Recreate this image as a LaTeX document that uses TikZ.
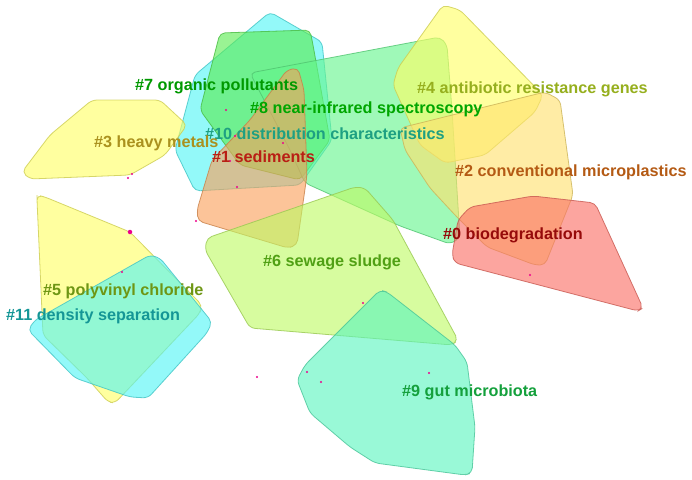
\documentclass[tikz,border=0pt]{standalone}
\usepackage{fontspec}
\setmainfont{Liberation Sans}
\begin{document}
\begin{tikzpicture}[x=1pt,y=-1pt,
  hull/.style={rounded corners=5pt, line width=0.8pt, fill opacity=0.62, draw opacity=0.8},
  lab/.style={font=\fontsize{16.2}{17}\selectfont\bfseries, inner sep=0pt, anchor=west},
  pt/.style={fill=magenta, draw=none, circle, inner sep=0pt, minimum size=2.4pt}]
\useasboundingbox (0,0) rectangle (692,479);
\definecolor{cRed}{RGB}{250,110,100}
\definecolor{cOrange}{RGB}{250,160,90}
\definecolor{cLtOr}{RGB}{255,225,110}
\definecolor{cYel}{RGB}{255,255,100}
\definecolor{cYG}{RGB}{190,250,100}
\definecolor{cGreen}{RGB}{90,235,80}
\definecolor{cLtGr}{RGB}{100,245,140}
\definecolor{cAqua}{RGB}{90,245,190}
\definecolor{cCyan}{RGB}{80,245,245}
% hulls
\draw[hull, draw=cCyan!80!black, fill=cCyan] (270,12) -- (322,42) -- (332,140) -- (300,185) -- (195,191) -- (175,150) -- (195,75) -- cycle; % #10
\draw[hull, draw=cGreen!80!black, fill=cGreen] (220,33) -- (310,30) -- (313,45) -- (330,140) -- (300,180) -- (240,165) -- (200,110) -- cycle; % #7
\draw[hull, draw=cLtGr!80!black, fill=cLtGr] (250,73) -- (440,37) -- (447,45) -- (452,110) -- (460,238) -- (450,244) -- (400,226) -- (305,183) -- (290,150) -- cycle; % #8
\draw[hull, draw=cYel!80!black, fill=cYel] (92,100) -- (160,100) -- (187,125) -- (165,155) -- (130,175) -- (30,179) -- (22,172) -- (50,135) -- cycle; % #3
\draw[hull, draw=cYel!80!black, fill=cYel] (443,5) -- (460,10) -- (543,95) -- (535,112) -- (485,155) -- (445,163) -- (420,145) -- (393,85) -- (398,68) -- cycle; % #4
\draw[hull, draw=cLtOr!80!black, fill=cLtOr] (400,128) -- (545,92) -- (560,100) -- (573,195) -- (545,265) -- (535,265) -- (487,247) -- (455,215) -- (430,188) -- (405,150) -- cycle; % #2
\draw[hull, draw=cOrange!80!black, fill=cOrange] (287,70) -- (298,68) -- (304,90) -- (307,175) -- (297,245) -- (288,248) -- (198,221) -- (197,210) -- (212,160) -- (250,120) -- cycle; % #1
\draw[hull, draw=cRed!80!black, fill=cRed] (470,207) -- (533,196) -- (595,203) -- (643,308) -- (638,311) -- (455,263) -- (452,255) -- (458,220) -- cycle; % #0
\draw[hull, draw=cYG!80!black, fill=cYG] (207,238) -- (355,187) -- (365,188) -- (393,220) -- (458,340) -- (452,345) -- (250,328) -- (205,250) -- cycle; % #6
\draw[hull, draw=cAqua!80!black, fill=cAqua] (380,290) -- (387,292) -- (455,345) -- (467,362) -- (475,427) -- (472,473) -- (465,475) -- (375,463) -- (350,447) -- (310,413) -- (297,380) -- (305,365) -- cycle; % #9
\draw[hull, draw=cYel!80!black, fill=cYel] (37,195) -- (45,197) -- (130,232) -- (202,305) -- (200,313) -- (115,403) -- (108,402) -- (87,378) -- (43,335) -- (37,200) -- cycle; % #5
\draw[hull, draw=cCyan!80!black, fill=cCyan] (150,255) -- (160,258) -- (212,322) -- (207,333) -- (148,398) -- (130,397) -- (75,378) -- (28,330) -- (35,320) -- cycle; % #11
% points
\foreach \p [count=\i] in {(226,110),(235,136),(283,143),(230,161),(237,187),(196,221),(132,174),(128,178),(122,272),(257,377),(307,372),(321,382),(363,303),(429,373),(530,275)}
  \node[pt] (p\i) at \p {};
\node[pt, minimum size=4.5pt] (pbig) at (130,232) {};
% labels
\node[lab, text=green!60!black] (l7) at (135,86) {\#7 organic pollutants};
\node[lab, text=green!65!black] (l8) at (250,109) {\#8 near-infrared spectroscopy};
\node[lab, text={rgb,255:red,30;green,160;blue,130}] (l10) at (205,134) {\#10 distribution characteristics};
\node[lab, text={rgb,255:red,170;green,145;blue,30}] (l3) at (94,143) {\#3 heavy metals};
\node[lab, text={rgb,255:red,185;green,30;blue,20}] (l1) at (212,157) {\#1 sediments};
\node[lab, text={rgb,255:red,150;green,175;blue,30}] (l4) at (417,89) {\#4 antibiotic resistance genes};
\node[lab, text={rgb,255:red,180;green,90;blue,20}] (l2) at (455,172) {\#2 conventional microplastics};
\node[lab, text={rgb,255:red,150;green,10;blue,10}] (l0) at (443,235) {\#0 biodegradation};
\node[lab, text={rgb,255:red,80;green,160;blue,20}] (l6) at (263,262) {\#6 sewage sludge};
\node[lab, text={rgb,255:red,110;green,150;blue,20}] (l5) at (43,291) {\#5 polyvinyl chloride};
\node[lab, text={rgb,255:red,20;green,150;blue,150}] (l11) at (6,316) {\#11 density separation};
\node[lab, text={rgb,255:red,20;green,160;blue,60}] (l9) at (402,392) {\#9 gut microbiota};
\end{tikzpicture}
\end{document}
